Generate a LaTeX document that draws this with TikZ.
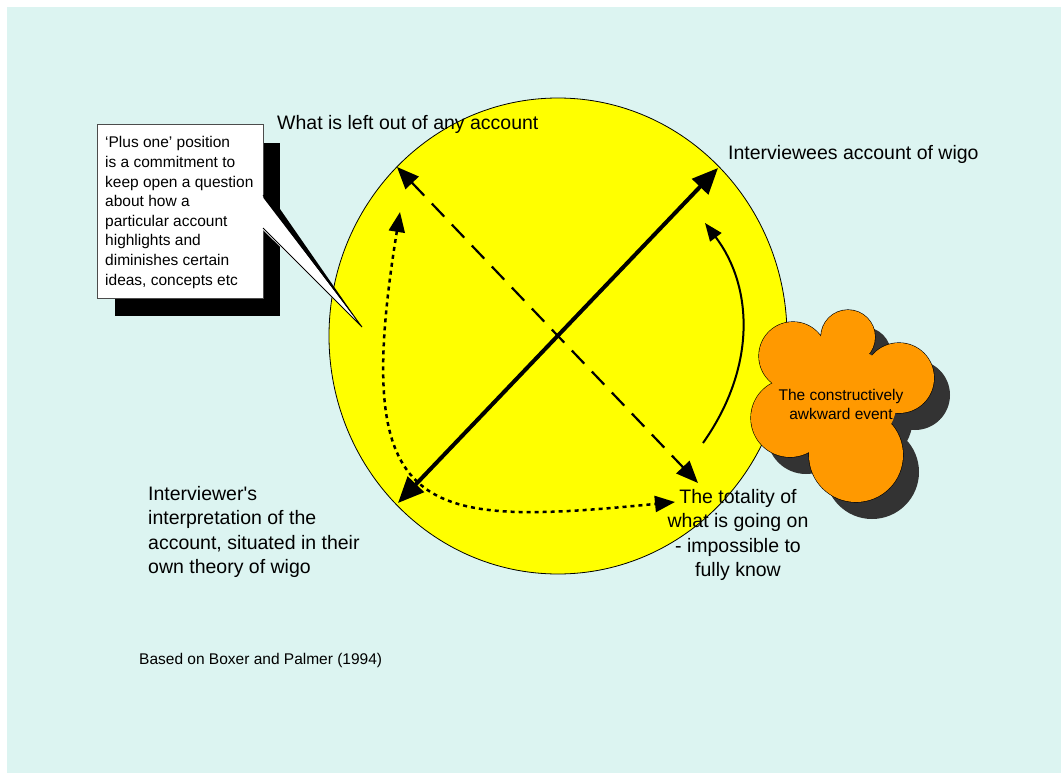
\documentclass[tikz,border=0pt]{standalone}
\usepackage{fontspec}
\setmainfont{Liberation Sans}
\usetikzlibrary{arrows.meta}
\definecolor{bgcyan}{RGB}{220,244,241}
\definecolor{sunyellow}{RGB}{255,255,0}
\definecolor{cloudorange}{RGB}{255,153,0}
\definecolor{cloudshadow}{RGB}{51,51,51}
\tikzset{
  bighead/.tip={Triangle[length=26pt,width=22pt]},
  midhead/.tip={Triangle[length=22pt,width=18pt]},
  dothead/.tip={Triangle[length=20pt,width=16pt]},
  thinhead/.tip={Triangle[length=18pt,width=14pt]},
  lbl/.style={inner sep=0pt, font=\fontsize{19.5}{24.5}\selectfont},
  solidarrow/.style={line width=4pt, bighead-bighead},
  dasharrow/.style={line width=2.2pt, dash pattern=on 18pt off 11pt, midhead-midhead},
  dotarrow/.style={line width=2.5pt, dash pattern=on 4pt off 4pt, dothead-dothead},
  curvearrow/.style={line width=2pt, -thinhead},
}
\begin{document}
\begin{tikzpicture}[x=1pt,y=-1pt]
\useasboundingbox (0,0) rectangle (1061,773);
\fill[white] (0,0) rectangle (1061,773);
\fill[bgcyan] (7,7) rectangle (1061,773);

% the yellow circle
\filldraw[fill=sunyellow, draw=black, line width=0.8pt] (558,336) ellipse [x radius=229pt, y radius=238pt];

% cloud: shadow, outline of every bump, then fill over inner strokes
\begin{scope}[shift={(16,17)}]
  \fill[cloudshadow] (793,356) circle[radius=34pt] (848,337) circle[radius=27pt]
    (899,378) circle[radius=35pt] (856,455) circle[radius=47pt]
    (790,418) circle[radius=39pt] (845,400) circle[radius=52pt];
\end{scope}
\draw[black, line width=1.2pt, fill=cloudorange] (793,356) circle[radius=34pt] (848,337) circle[radius=27pt]
    (899,378) circle[radius=35pt] (856,455) circle[radius=47pt]
    (790,418) circle[radius=39pt];
\fill[cloudorange] (793,356) circle[radius=34pt] (848,337) circle[radius=27pt]
    (899,378) circle[radius=35pt] (856,455) circle[radius=47pt]
    (790,418) circle[radius=39pt] (845,400) circle[radius=52pt];
\node[inner sep=0pt, align=center, font=\fontsize{15.5}{19}\selectfont, anchor=base] (event) at (841,419)
  {The constructively\\awkward event};

% callout with its shadow
\fill[black] (115,143) rectangle (280,316);
\fill[black] (280,209) -- (362,327) -- (280,224) -- cycle;
\filldraw[fill=white, draw=black!70, line width=0.8pt] (97,124) rectangle (263,298);
\fill[white] (261,195) -- (362,327) -- (261,228) -- cycle;
\draw[black, line width=0.8pt] (263,195) -- (362,327) -- (263,228);
\node[inner sep=0pt, anchor=north west, align=left, font=\fontsize{15.5}{19.6}\selectfont] (plusone) at (105,136.4)
  {`Plus one' position\\is a commitment to\\keep open a question\\about how a\\particular account\\highlights and\\diminishes certain\\ideas, concepts etc};

% labels
\node[lbl, anchor=base west] (leftout) at (277,130) {What is left out of any account};
\node[lbl, anchor=base west] (wigo) at (728,160) {Interviewees account of wigo};
\node[lbl, anchor=north west, align=left] (interp) at (148,486)
  {Interviewer\textquotesingle s\\interpretation of the\\account, situated in their\\own theory of wigo};
\node[lbl, anchor=north, align=center] (totality) at (738,489)
  {The totality of\\what is going on\\- impossible to\\fully know};
\node[inner sep=0pt, anchor=base west, font=\fontsize{15.5}{18}\selectfont] (source) at (139,664)
  {Based on Boxer and Palmer (1994)};

% arrow end points on the circle
\coordinate (accTip) at (718,168);
\coordinate (interpTip) at (398,503);
\coordinate (leftTip) at (397,167);
\coordinate (totTip) at (698,483);
\coordinate (dotTop) at (400,212);
\coordinate (dotEnd) at (675,502);
\coordinate (curveFoot) at (703,443);
\coordinate (curveTip) at (705,223);

\draw[solidarrow] (interpTip) -- (accTip);
\draw[dasharrow] (leftTip) -- (totTip);
\draw[dotarrow] (dotTop) .. controls (350,520) and (420,527) .. (dotEnd);
\draw[curvearrow] (curveFoot) .. controls (758,365) and (752,285) .. (curveTip);
\end{tikzpicture}
\end{document}
